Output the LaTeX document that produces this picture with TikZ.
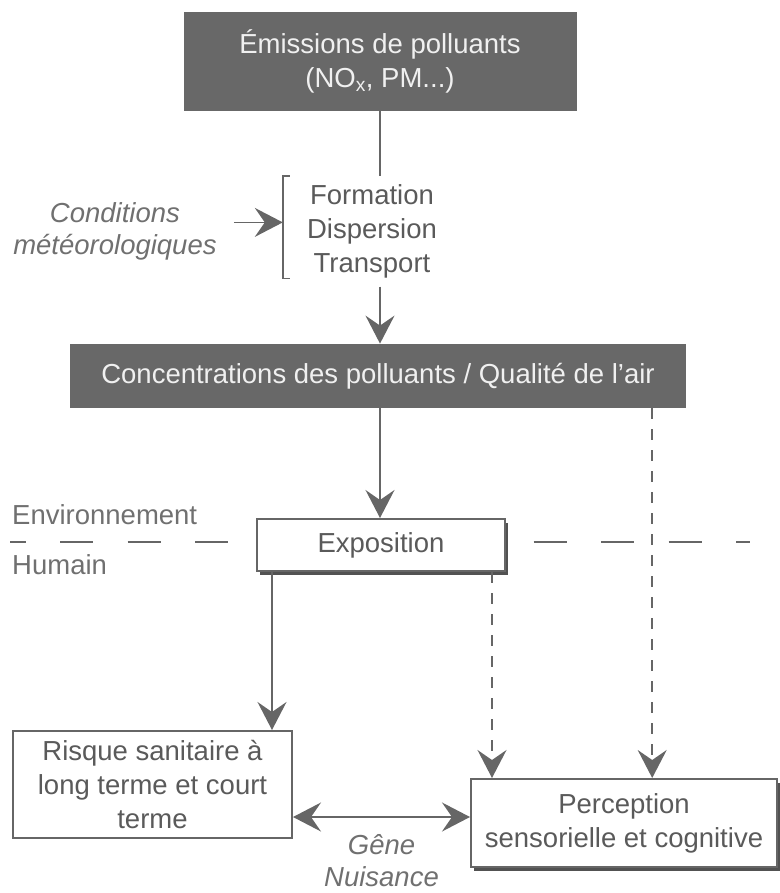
\documentclass[tikz,border=0pt]{standalone}
\usepackage{fontspec}
\setmainfont{Liberation Sans}
\usetikzlibrary{arrows.meta,positioning,shadows}

\definecolor{boxgray}{HTML}{686868}
\definecolor{linegray}{HTML}{666666}
\definecolor{textgray}{HTML}{5A5A5A}
\definecolor{labelgray}{HTML}{707070}

\begin{document}
\begin{tikzpicture}[x=1pt,y=-1pt,>={Stealth[length=28pt,width=29pt,inset=10pt]},
    every node/.style={font=\fontsize{27.5}{34}\selectfont,text=textgray},
    dark box/.style={rectangle,fill=boxgray,text=white!94!black,align=center,inner sep=0pt},
    white box/.style={rectangle,draw=linegray,fill=white,line width=2pt,align=center,inner sep=0pt},
    shadow box/.style={white box,drop shadow={shadow xshift=2.5pt,shadow yshift=-3.5pt,fill=linegray!80!black,opacity=1}},
    side text/.style={font=\fontsize{27.5}{32}\selectfont\itshape,text=labelgray,align=center,inner sep=0pt},
    zone text/.style={text=labelgray,inner sep=0pt,anchor=west},
    link/.style={draw=linegray,line width=1.5pt},
    dash link/.style={link,dash pattern=on 11pt off 10pt}]

    \useasboundingbox (0,0) rectangle (779,893);

    \node[dark box,minimum width=393pt,minimum height=99pt] (emis) at (380,61.5) {Émissions de polluants\\(NO\textsubscript{x}, PM...)};
    \node[align=center,inner sep=0pt,minimum width=178pt,minimum height=110pt] (proc) [below=65pt of emis,xshift=-8pt] {Formation\\Dispersion\\Transport};
    \node[side text] (cond) [left=66pt of proc] {Conditions\\météorologiques};
    \node[dark box,minimum width=616pt,minimum height=64pt] (conc) [below=57pt of proc,xshift=6pt] {Concentrations des polluants / Qualité de l’air};
    \node[shadow box,minimum width=248pt,minimum height=52pt] (expo) [below=110pt of conc,xshift=3pt] {Exposition};
    \node[white box,minimum width=279pt,minimum height=107pt] (risque) [below=158pt of expo,xshift=-228.5pt] {Risque sanitaire à\\long terme et court\\terme};
    \node[shadow box,minimum width=306pt,minimum height=88pt] (perc) [below=206pt of expo,xshift=243pt] {Perception\\sensorielle et cognitive};
    \node[zone text] (env) at (12,515) {Environnement};
    \node[zone text] (hum) at (12,565) {Humain};

    \coordinate (sepL) at (10,542);
    \coordinate (sepR) at (750,542);
    \coordinate (el) at ([xshift=16pt]expo.south west);
    \coordinate (er) at ([xshift=-14pt]expo.south east);
    \coordinate (cr) at ([xshift=-34pt]conc.south east);
    \coordinate (rr) at ([yshift=-32.5pt]risque.east);

    \draw[link] (emis.south) -- (emis |- proc.north);
    \draw[link] ([xshift=7pt]proc.north west) -- (proc.north west)
        -- ([yshift=8pt]proc.south west) -- ++(7pt,0);
    \draw[link,->,shorten <=17pt] ([yshift=9pt]cond.east) -- ([yshift=9pt]cond.east -| proc.west);
    \draw[link,->] (emis |- proc.south) -- (emis |- conc.north);
    \draw[link,->] (emis |- conc.south) -- (emis |- expo.north);
    \draw[link,line width=1.3pt,dash pattern=on 33pt off 34.5pt,dash phase=17.5pt] (sepL) -- (sepL -| expo.west);
    \draw[link,line width=1.3pt,dash pattern=on 33pt off 34.5pt,dash phase=40pt] (sepR -| expo.east) -- (sepR);
    \draw[link,->] (el) -- (el |- risque.north);
    \draw[dash link,->] (er) -- (er |- perc.north);
    \draw[dash link,->] (cr) -- (cr |- perc.north);
    \draw[link,<->] (rr) -- (rr -| perc.west) node[midway,yshift=-44pt,side text] {Gêne\\Nuisance};
\end{tikzpicture}
\end{document}
